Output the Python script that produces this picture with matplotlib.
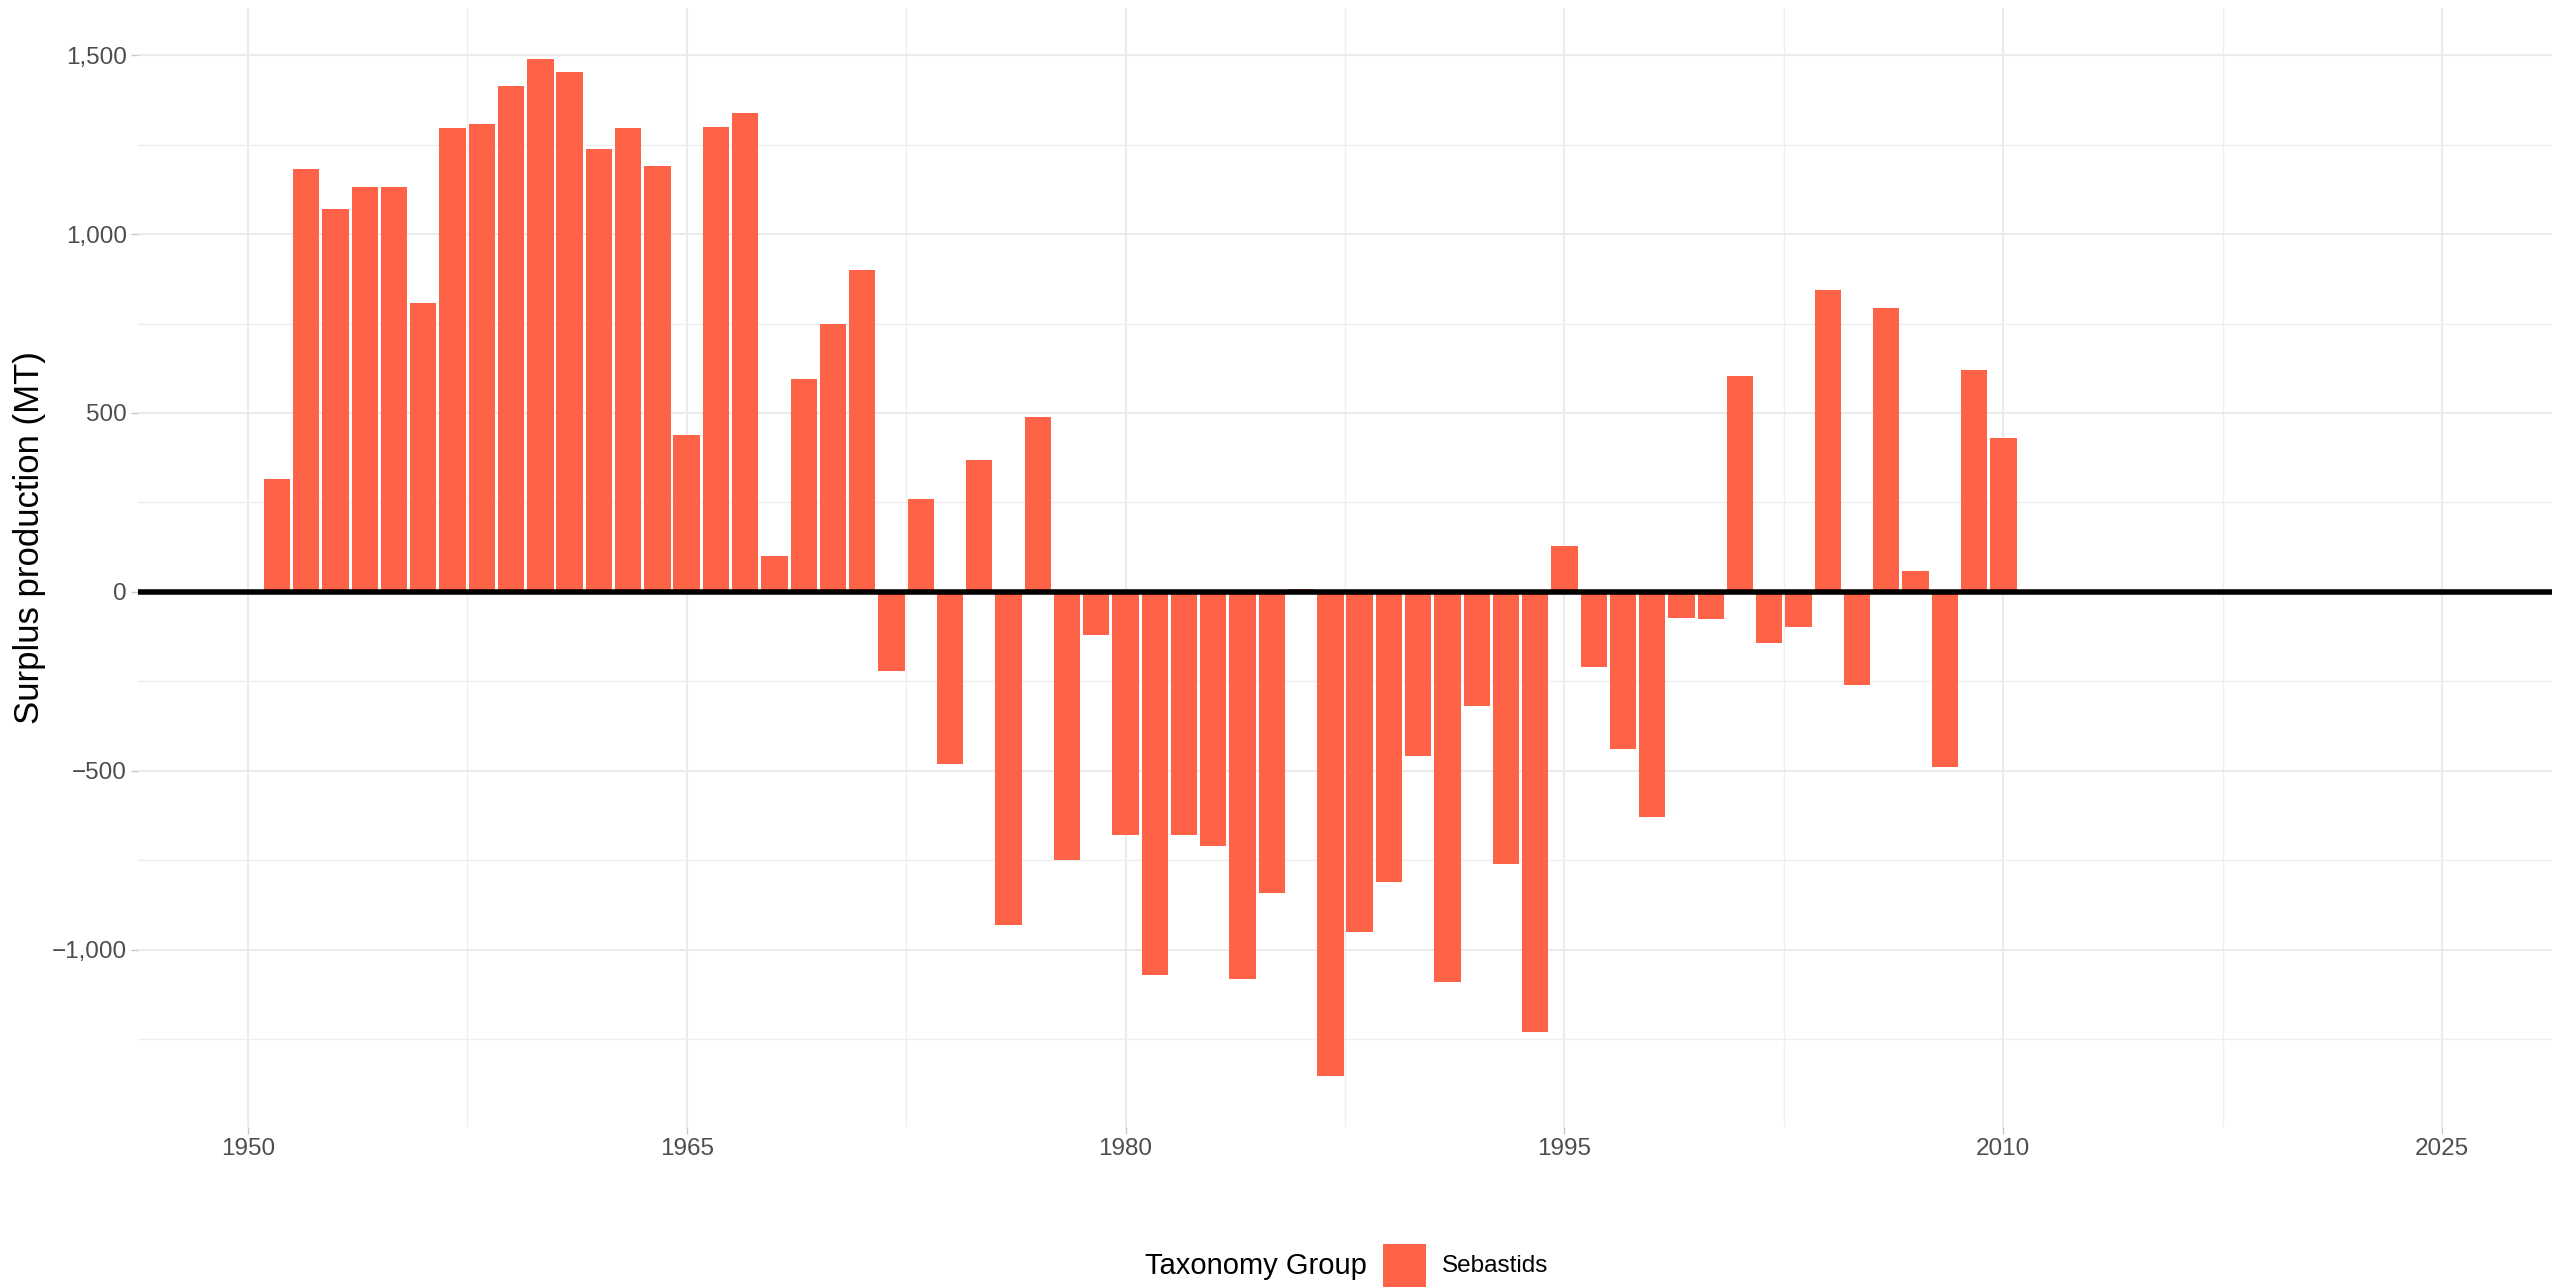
import matplotlib
matplotlib.use("Agg")
import matplotlib.pyplot as plt
from matplotlib.patches import Rectangle
from matplotlib.ticker import FuncFormatter, MultipleLocator, FixedLocator

plt.rcParams['font.family'] = ['Liberation Sans', 'DejaVu Sans']

years = list(range(1951, 2011))
surplus = [
    315, 1182, 1071, 1132, 1132, 807, 1297, 1309, 1414, 1490,
    1453, 1239, 1297, 1191, 438, 1300, 1338, 101, 594, 748,
    901, -220, 260, -482, 369, -932, 489, -750, -122, -680,
    -1072, -680, -710, -1082, -843, 8, -1354, -952, -812, -460,
    -1091, -319, -760, -1231, 128, -211, -439, -630, -72, -75,
    603, -144, -97, 845, -261, 793, 59, -490, 619, 430,
]
group_name = "Sebastids"
legend_title = "Taxonomy Group"
y_label = "Surplus production (MT)"
x_major = [1950, 1965, 1980, 1995, 2010, 2025]
y_major = [-1000, -500, 0, 500, 1000, 1500]

BAR = "#FF6347"
W, H = 2569, 1287
fig = plt.figure(figsize=(W / 100, H / 100), dpi=100)
left, right, top, bottom = 138, 2552, 8, 1127
ax = fig.add_axes([left / W, 1 - bottom / H, (right - left) / W, (bottom - top) / H])

ax.bar(years, surplus, width=0.9, color=BAR, zorder=2, linewidth=0)
ax.axhline(0, color="black", linewidth=4.0, zorder=3)

x0, x1 = x_major[0], x_major[-1]
xr = x1 - x0
ax.set_xlim(x0 - 0.05 * xr, x1 + 0.05 * xr)
ymin, ymax = min(surplus), max(surplus)
yr = ymax - ymin
ax.set_ylim(ymin - 0.05 * yr, ymax + 0.05 * yr)

ax.xaxis.set_major_locator(FixedLocator(x_major))
ax.xaxis.set_minor_locator(FixedLocator([v + 7.5 for v in x_major[:-1]]))
ax.yaxis.set_major_locator(FixedLocator(y_major))
ax.yaxis.set_minor_locator(FixedLocator([v + 250 for v in y_major[:-1]] + [y_major[0] - 250]))

def fmt(v, pos):
    s = "{:,.0f}".format(abs(v))
    return ("\u2212" + s) if v < 0 else s

ax.yaxis.set_major_formatter(FuncFormatter(fmt))
ax.xaxis.set_major_formatter(FuncFormatter(lambda v, p: "%d" % v))

ax.grid(which="major", color="#EBEBEB", linewidth=1.5, zorder=0)
ax.grid(which="minor", color="#EFEFEF", linewidth=1.0, zorder=0)
ax.set_axisbelow(True)
for s in ax.spines.values():
    s.set_visible(False)

ax.tick_params(axis="both", which="major", length=5, width=1.0, color="#C8C8C8",
               labelsize=17.5, labelcolor="#4D4D4D", pad=3)
ax.tick_params(axis="both", which="minor", length=0)

fig.text(30 / W, 1 - 538 / H, y_label, rotation=90, ha="center", va="center",
         fontsize=25, color="black")

# legend (bottom, horizontal)
ly = 1 - 1266 / H
fig.text(1145 / W, ly, legend_title, ha="left", va="center", fontsize=21, color="black")
fig.patches.append(Rectangle((1383 / W, 1 - 1287 / H), 43 / W, 43 / H,
                             transform=fig.transFigure, facecolor=BAR, edgecolor="none"))
fig.text(1442 / W, ly, group_name, ha="left", va="center", fontsize=17.5, color="black")

fig.savefig("out.png", dpi=100, facecolor="white")
